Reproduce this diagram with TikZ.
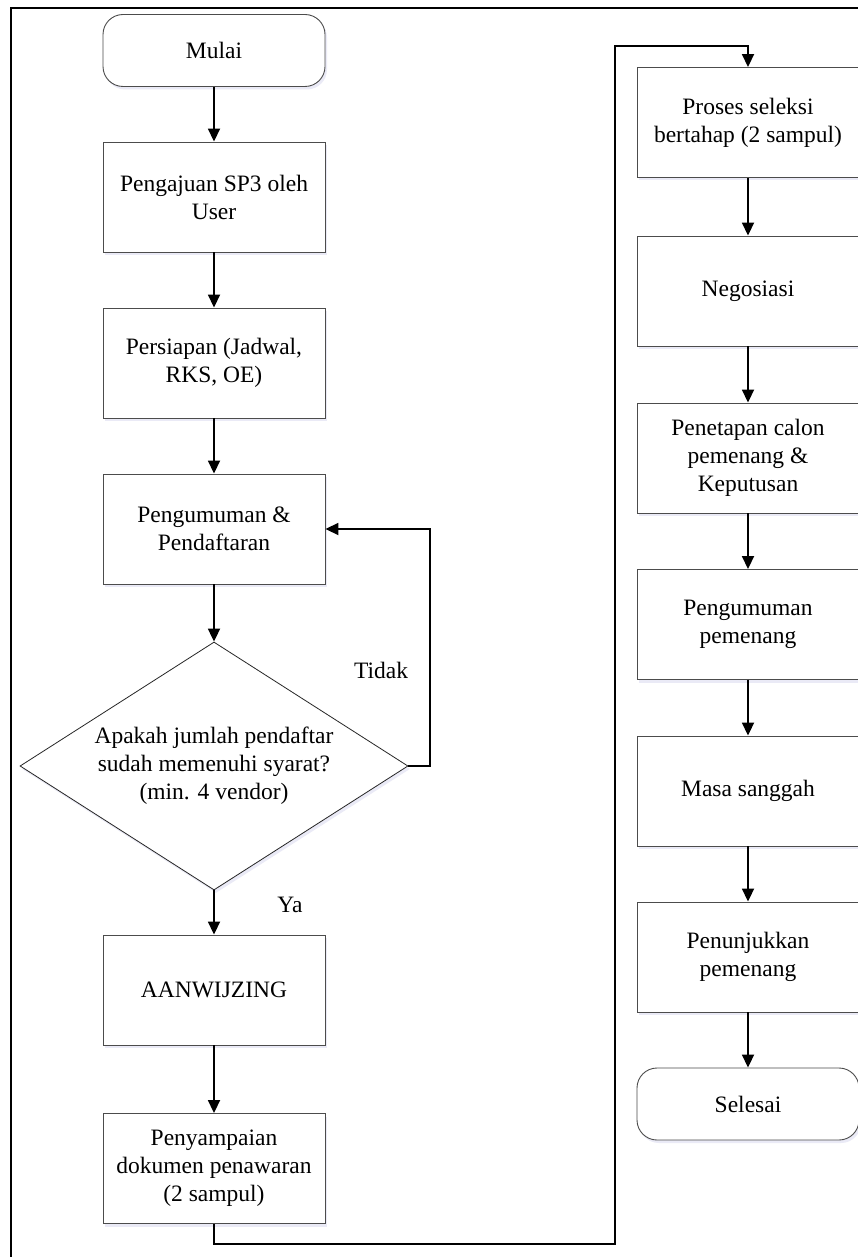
\documentclass[tikz,border=0pt]{standalone}
\usepackage{fontspec}
\setmainfont{Liberation Serif}
\usetikzlibrary{arrows.meta,shapes.geometric,shadows}

\begin{document}
\begin{tikzpicture}[x=1pt,y=-1pt,
  txt/.style={font=\fontsize{23.5}{28}\selectfont, align=center},
  softshadow/.style={drop shadow={shadow xshift=2pt,shadow yshift=-3pt,fill=blue!40!gray!25,opacity=0.45}},
  procbox/.style={txt, draw=black!70, line width=0.9pt, fill=white,
    minimum width=222pt, minimum height=110pt, inner sep=0pt, softshadow},
  term/.style={procbox, rounded corners=20pt, minimum height=72pt},
  decision/.style={txt, diamond, aspect=1.565, draw=black!85, line width=0.8pt, fill=white,
    minimum width=388pt, minimum height=248pt, inner sep=0pt, softshadow},
  flow/.style={line width=1.8pt, -{Triangle[length=13pt,width=12pt]}}]

\useasboundingbox (0,0) rectangle (858,1257);
\fill[white] (0,0) rectangle (858,1257);

% outer frame
\draw[line width=2.2pt] (11,8) rectangle (885,1285);

% left column
\node[term]     (mulai) at (214,50.5)  {Mulai};
\node[procbox]  (sp3)   at (214,197)   {Pengajuan SP3 oleh\\User};
\node[procbox]  (prep)  at (214,363)   {Persiapan (Jadwal,\\RKS, OE)};
\node[procbox]  (reg)   at (214,529)   {Pengumuman \&\\Pendaftaran};
\node[decision] (dec)   at (214,766)   {Apakah jumlah pendaftar\\sudah memenuhi syarat?\\(min. 4 vendor)};
\node[procbox]  (aan)   at (214,990)   {AANWIJZING};
\node[procbox]  (doc)   at (214,1168.5){Penyampaian\\dokumen penawaran\\(2 sampul)};

% right column
\node[procbox]  (sel)    at (748,122.5) {Proses seleksi\\bertahap (2 sampul)};
\node[procbox]  (nego)   at (748,291)   {Negosiasi};
\node[procbox]  (calon)  at (748,458)   {Penetapan calon\\pemenang \&\\Keputusan};
\node[procbox]  (ann)    at (748,624.5) {Pengumuman\\pemenang};
\node[procbox]  (sang)   at (748,791)   {Masa sanggah};
\node[procbox]  (tunjuk) at (748,957)   {Penunjukkan\\pemenang};
\node[term]     (selesai) at (748,1104) {Selesai};

% branch labels
\node[txt] (tidak) at (381,670) {Tidak};
\node[txt] (ya)    at (290,905) {Ya};

% connectors, left column
\draw[flow] (mulai) -- (sp3);
\draw[flow] (sp3) -- (prep);
\draw[flow] (prep) -- (reg);
\draw[flow] (reg) -- (dec);
\coordinate (loopright) at (430,766);
\draw[flow] (dec.east) -- (loopright) |- (reg.east);
\draw[flow] (dec) -- (aan);
\draw[flow] (aan) -- (doc);

% connector across to the right column
\coordinate (lowleft)  at (214,1244);
\coordinate (topright) at (615,46);
\draw[flow] (doc.south) -- (lowleft) -| (topright) -| (sel.north);

% connectors, right column
\draw[flow] (sel) -- (nego);
\draw[flow] (nego) -- (calon);
\draw[flow] (calon) -- (ann);
\draw[flow] (ann) -- (sang);
\draw[flow] (sang) -- (tunjuk);
\draw[flow] (tunjuk) -- (selesai);
\end{tikzpicture}
\end{document}
